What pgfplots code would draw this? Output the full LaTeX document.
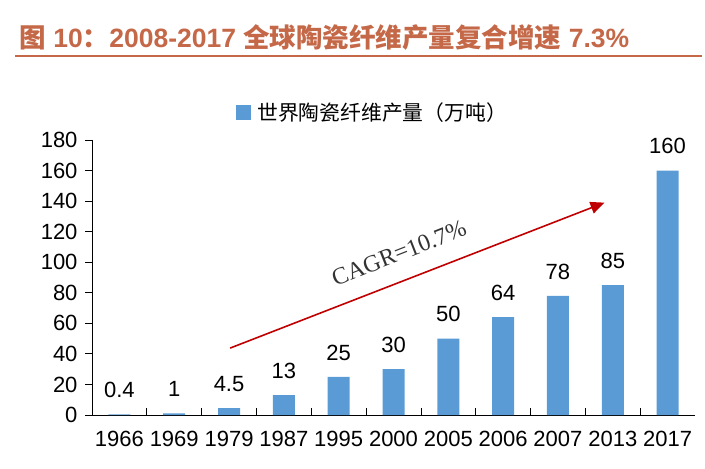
\documentclass[border=0pt]{standalone}
\usepackage{fontspec}
\usepackage{pgfplots}
\pgfplotsset{compat=1.18}
\usetikzlibrary{arrows.meta}
\setmainfont{Liberation Sans}
\newfontfamily\cjk{Noto Sans CJK SC}
\newfontfamily\tnr{Liberation Serif}
\definecolor{barblue}{RGB}{91,155,213}
\definecolor{titlered}{RGB}{196,104,72}
\definecolor{arrowred}{RGB}{192,0,0}
\begin{document}
\begin{tikzpicture}
\path[use as bounding box] (0,0) rectangle (705bp,-469bp);
% title and rule
\node[anchor=west, text=titlered, font=\fontsize{26.5bp}{30bp}\selectfont\bfseries] at (16bp,-38bp)
  {{\cjk\bfseries 图} 10{\cjk\bfseries ：}2008-2017 {\cjk\bfseries 全球陶瓷纤维产量复合增速} 7.3\%};
\draw[titlered, line width=2.5bp] (15bp,-56bp) -- (702bp,-56bp);
\begin{axis}[
  at={(92bp,-415bp)}, anchor=south west,
  scale only axis, width=603bp, height=275bp,
  ybar, bar width=22bp,
  xmin=-0.5, xmax=10.5, ymin=0, ymax=180,
  ytick={0,20,...,180},
  xtick={0,...,10},
  xticklabels={1966,1969,1979,1987,1995,2000,2005,2006,2007,2013,2017},
  minor xtick={0.5,1.5,...,9.5},
  axis x line*=bottom, axis y line*=left,
  x axis line style={-}, y axis line style={-},
  major x tick style={draw=none},
  minor tick length=7bp,
  xtick align=inside,
  every minor tick/.style={black, thick},
  y tick style={black, thick},
  ytick align=outside, major tick length=7bp,
  axis line style={black, thick},
  tick label style={font=\fontsize{22bp}{26bp}\selectfont},
  /pgf/number format/assume math mode=true,
  xticklabel style={yshift=-13bp},
  yticklabel style={xshift=-4bp},
  nodes near coords,
  nodes near coords style={font=\fontsize{22bp}{26bp}\selectfont, anchor=south, yshift=13bp,
    /pgf/number format/.cd, fixed, precision=1},
  clip=false,
]
\addplot[fill=barblue, draw=none] coordinates {
  (0,0.4) (1,1) (2,4.5) (3,13) (4,25) (5,30) (6,50) (7,64) (8,78) (9,85) (10,160)};
\draw[arrowred, line width=1.6bp, -{Triangle[length=14bp,width=12bp]}]
  (axis cs:2.02,43.8) -- (axis cs:8.85,139);
\node[rotate=21.4, text=black!80, font=\tnr\fontsize{24bp}{28bp}\selectfont]
  at (axis cs:5.1,106) {CAGR=10.7\%};
\end{axis}
% legend
\fill[barblue] (236bp,-105bp) rectangle (251bp,-120bp);
\node[anchor=west, font=\cjk\fontsize{20.8bp}{24bp}\selectfont, inner sep=0pt] at (257bp,-113bp)
  {世界陶瓷纤维产量（万吨）};
\end{tikzpicture}
\end{document}
